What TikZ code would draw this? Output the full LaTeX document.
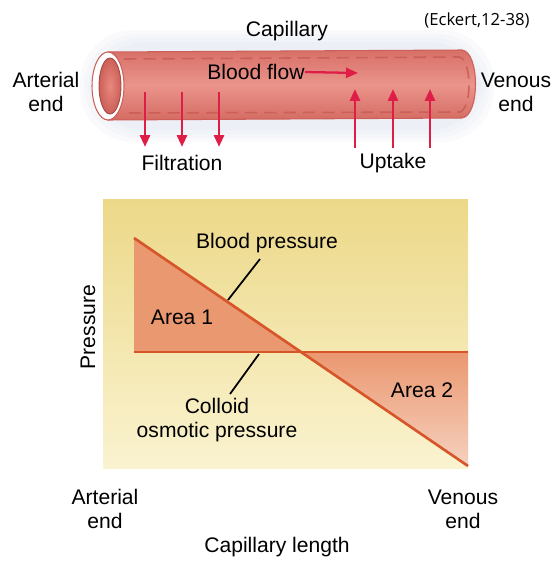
\documentclass[tikz,border=0pt]{standalone}
\usepackage{fontspec}
\setmainfont{Liberation Sans}
\newfontfamily\notefont{Open Sans}
\usetikzlibrary{arrows.meta}
\usetikzlibrary{positioning}

\definecolor{tubepink}{RGB}{232,136,126}
\definecolor{tubedark}{RGB}{204,96,88}
\definecolor{flowred}{RGB}{222,30,70}
\definecolor{chartline}{RGB}{214,86,42}
\definecolor{areafill}{RGB}{234,152,112}
\definecolor{paneltop}{RGB}{236,216,136}
\definecolor{panelbot}{RGB}{250,243,208}
\definecolor{haze}{RGB}{195,205,222}

\tikzset{
  lbl/.style={font=\fontsize{12}{13.5}\selectfont, inner sep=0pt, align=center},
  flow/.style={flowred, line width=1.6pt, -{Triangle[length=2.4mm,width=2mm]}},
  leader/.style={black, line width=1pt},
}

\begin{document}
\begin{tikzpicture}[x=0.02cm,y=-0.02cm]

            \useasboundingbox (0,0) rectangle (559,561);
            %\draw [help lines] (0,0) grid (559,561);

            % soft glow behind the tube
            \foreach \g in {16,12,8,4}
                \fill[haze, opacity=0.09, rounded corners=30pt] (96-\g,46-\g) rectangle (478+\g,126+\g);

            % the capillary tube
            \shade[top color=tubedark!60!tubepink, bottom color=tubedark!70!tubepink, middle color=tubepink!90!white, draw=tubedark, line width=0.6pt]
                (108,52) -- (462,50) .. controls (480,52) and (480,116) .. (462,118) -- (108,120) -- cycle;
            \draw[tubedark, dashed, line width=0.9pt, dash pattern=on 7pt off 4pt]
                (124,59) -- (460,57) .. controls (472,62) and (472,108) .. (460,112) -- (124,113);
            \fill[white, draw=tubedark, line width=0.6pt] (108,86) ellipse [x radius=0.32cm, y radius=0.68cm];
            \shade[inner color=tubepink, outer color=tubedark, draw=tubedark!80!black, line width=0.5pt]
                (110,86) ellipse [x radius=0.22cm, y radius=0.56cm];

            \path   (287,31)  node (cap)   [lbl] {Capillary}
                    (477,20)  node (ref)   [inner sep=0pt, font=\notefont\fontsize{9.5}{11}\selectfont] {(Eckert,12-38)}
                    (46,92)   node (artA)  [lbl] {Arterial\\end}
                    (516,92)  node (venA)  [lbl] {Venous\\end}
                    (256,72)  node (flow)  [lbl] {Blood flow}
                    (182,163) node (filt)  [lbl] {Filtration}
                    (393,163) node (upt)   [lbl] {Uptake};

            \coordinate (flowend) at (358,73);
            \draw[flow, line width=1.3pt] (flow.east) -- (flowend);

            % filtration leaves the tube, uptake goes back in
            \foreach \x in {145,182,219} {
                \coordinate (fa\x) at (\x,92);
                \coordinate (fb\x) at (\x,147);
                \draw[flow] (fa\x) -- (fb\x);
            }
            \foreach \x in {355,393,430} {
                \coordinate (ua\x) at (\x,148);
                \coordinate (ub\x) at (\x,89);
                \draw[flow] (ua\x) -- (ub\x);
            }

            % pressure panel
            \shade[top color=paneltop, bottom color=panelbot] (103,199) rectangle (468,468);

            \coordinate (bpstart) at (134,238);
            \coordinate (bpend)   at (468,466);
            \coordinate (cop)     at (134,352);
            \coordinate (copend)  at (468,352);
            \coordinate (cross)   at (301,352);

            \fill[areafill] (bpstart) -- (cross) -- (cop) -- cycle;
            \shade[top color=areafill, bottom color=areafill!45!white] (cross) -- (copend) -- (bpend) -- cycle;
            \draw[chartline, line width=1.5pt] (bpstart) -- (bpend);
            \draw[chartline, line width=1.5pt] (cop) -- (copend);

            \path   (267,243) node (bp)    [lbl] {Blood pressure}
                    (182,317) node (a1)    [lbl] {Area 1}
                    (422,390) node (a2)    [lbl] {Area 2}
                    (217,420) node (cp)    [lbl] {Colloid\\osmotic pressure}
                    (88,327)  node (pr)    [lbl, rotate=90] {Pressure}
                    (105,509) node (artB)  [lbl] {Arterial\\end}
                    (463,509) node (venB)  [lbl] {Venous\\end}
                    (277,547) node (len)   [lbl] {Capillary length};

            % leaders from the labels to the two curves
            \coordinate (bptop) at (260,259);
            \coordinate (bptip) at (228,300);
            \coordinate (cptip) at (259,354);
            \coordinate (cpbot) at (230,394);
            \draw[leader] (bptop) -- (bptip);
            \draw[leader] (cptip) -- (cpbot);

\end{tikzpicture}
\end{document}
